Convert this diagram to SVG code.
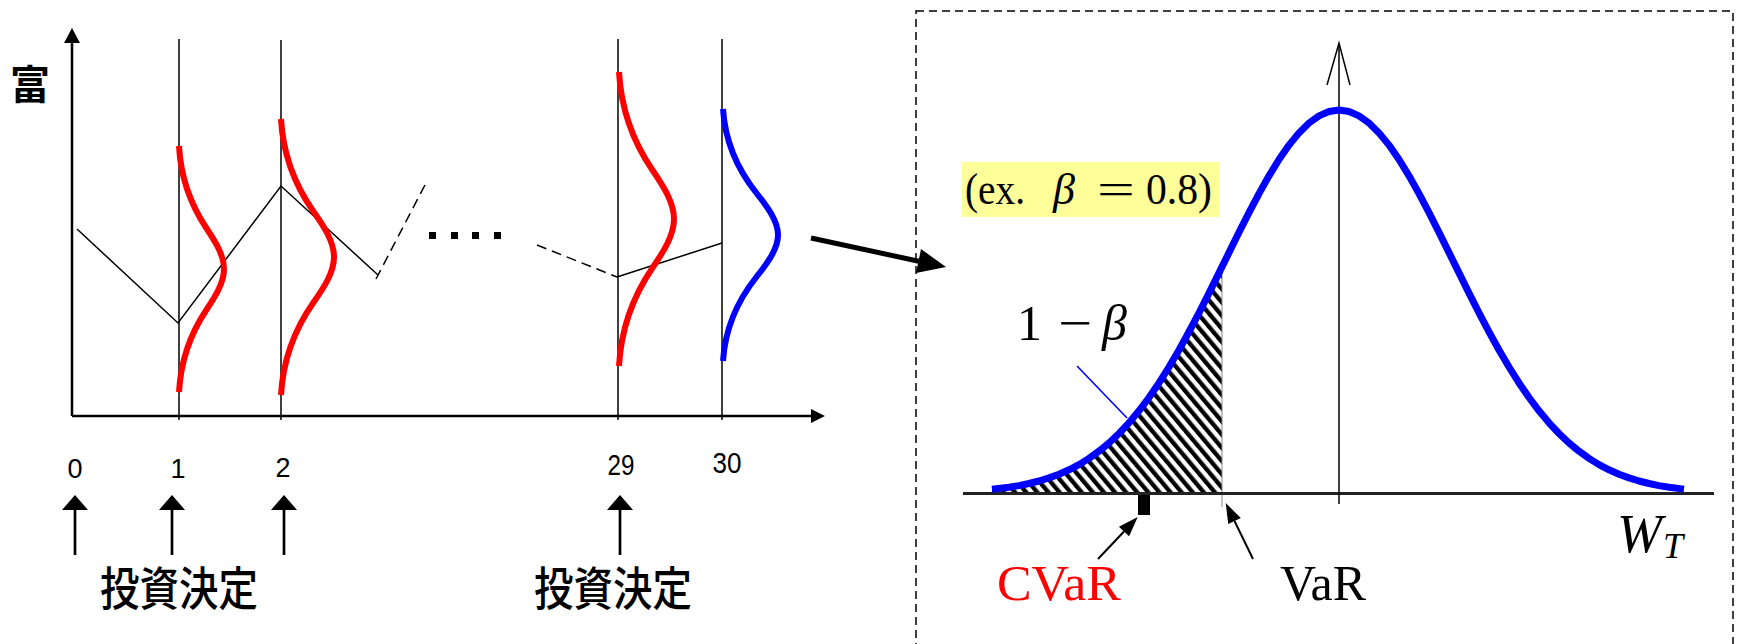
<svg xmlns="http://www.w3.org/2000/svg" width="1738" height="644" viewBox="0 0 1738 644">
<style>
.thin{stroke:#000;stroke-width:1.5;fill:none}
.axis{stroke:#000;stroke-width:2.5;fill:none}
.red{stroke:#ff0000;stroke-width:6;fill:none}
.blue{stroke:#0000ff;stroke-width:6;fill:none}
.dash{stroke:#000;stroke-width:1.5;fill:none;stroke-dasharray:10 6}
.arr{stroke:#000;stroke-width:2.7;fill:none}
.jp{font-family:"Noto Sans CJK JP","Noto Sans CJK SC",sans-serif;fill:#000}
.num{font-family:"Liberation Sans",Arial,sans-serif;fill:#000;text-anchor:middle}
.tex{font-family:"Liberation Serif","Times New Roman",serif;fill:#000}
.it{font-style:italic}
</style>
<defs>
<marker id="upHead" markerUnits="userSpaceOnUse" markerWidth="20" markerHeight="30" refX="0" refY="13" orient="auto" overflow="visible">
<path d="M0,0 L15,13 L0,26 z" fill="#000"/>
</marker>
<marker id="smallHead" markerUnits="userSpaceOnUse" markerWidth="24" markerHeight="18" refX="0" refY="7" orient="auto" overflow="visible">
<path d="M0,0 L20,7 L0,14 z" fill="#000"/>
</marker>
<pattern id="hatch" patternUnits="userSpaceOnUse" width="8.5" height="8.5" patternTransform="rotate(-40)">
<rect width="8.5" height="8.5" fill="#fff"/>
<rect width="4.3" height="8.5" fill="#000"/>
</pattern>
</defs>
<rect width="1738" height="644" fill="#fff"/>

<g id="left-chart">
<line class="axis" x1="72" y1="416" x2="72" y2="43"/>
<polygon points="72,28 64,43 80,43" fill="#000"/>
<line class="axis" x1="72" y1="416" x2="811" y2="416"/>
<polygon points="825,416 811,409 811,423" fill="#000"/>
<line class="thin" x1="179" y1="39" x2="179" y2="420"/>
<line class="thin" x1="281" y1="40" x2="281" y2="420"/>
<line class="thin" x1="618" y1="39" x2="618" y2="420"/>
<line class="thin" x1="722" y1="39" x2="722" y2="420"/>
<polyline class="thin" points="77,229 178,323 281,186 378,275"/>
<line class="dash" x1="376" y1="279" x2="426" y2="183"/>
<line class="dash" x1="537" y1="245" x2="617" y2="277"/>
<line class="thin" x1="617" y1="277" x2="722" y2="243"/>
<g fill="#000">
<rect x="429" y="232" width="7" height="7"/>
<rect x="451" y="232" width="7" height="7"/>
<rect x="472" y="232" width="7" height="7"/>
<rect x="494" y="232" width="7" height="7"/>
</g>
<path class="red" d="M179,146 C180.5,173.3 188.1,200.7 206.3,228 C215.4,241.7 224,255.3 224,269 C224,282.7 215.4,296.3 206.3,310 C188.1,337.3 180.5,364.7 179,392"/>
<path class="red" d="M281,119 C282.7,149.7 291.7,180.3 313.1,211 C323.9,226.3 334,241.7 334,257 C334,272.3 323.9,287.7 313.1,303 C291.7,333.7 282.7,364.3 281,395"/>
<path class="red" d="M619,72 C620.8,104.7 630.1,137.3 652.4,170 C663.5,186.3 674,202.7 674,219 C674,235.3 663.5,251.7 652.4,268 C630.1,300.7 620.8,333.3 619,366"/>
<path class="blue" d="M723,109 C724.8,137 734.1,165 756.4,193 C767.5,207 778,221 778,235 C778,249 767.5,263 756.4,277 C734.1,305 724.8,333 723,361"/>
</g>

<g id="left-labels">
<text class="jp" x="10" y="99" font-size="40" font-weight="bold">富</text>
<text class="num" x="75" y="478" font-size="27">0</text>
<text class="num" x="178" y="478" font-size="27">1</text>
<text class="num" x="283" y="477" font-size="27">2</text>
<text class="num" x="621" y="475" font-size="29" textLength="27" lengthAdjust="spacingAndGlyphs">29</text>
<text class="num" x="727" y="473" font-size="29" textLength="29" lengthAdjust="spacingAndGlyphs">30</text>
<text class="jp" x="100" y="605" font-size="46" font-weight="500" textLength="158" lengthAdjust="spacingAndGlyphs">投資決定</text>
<text class="jp" x="534" y="605" font-size="46" font-weight="500" textLength="158" lengthAdjust="spacingAndGlyphs">投資決定</text>
</g>

<g id="right-panel">
<rect x="916" y="11" width="817" height="660" fill="none" stroke="#000" stroke-width="1.5" stroke-dasharray="8 5"/>
<path d="M992,493 L992,489.3 L1009,487.2 L1019,485.6 L1029,483.5 L1039,481 L1049,477.9 L1059,474.2 L1069,469.8 L1079,464.6 L1089,458.4 L1099,451.2 L1109,443 L1119,433.5 L1129,422.8 L1139,410.8 L1149,397.5 L1159,382.9 L1169,367 L1179,350 L1189,331.8 L1199,312.8 L1209,293.1 L1219,272.9 L1222,267 L1222,493 Z" fill="url(#hatch)"/>
<line x1="1222" y1="265" x2="1222" y2="507" stroke="#888" stroke-width="1"/>
<line x1="963" y1="493.5" x2="1714" y2="493.5" stroke="#222" stroke-width="3"/>
<line class="thin" x1="1339" y1="44" x2="1339" y2="504"/>
<polyline class="thin" points="1327,85 1339,43 1350,85"/>
<polyline fill="none" stroke="#0000ff" stroke-width="7" stroke-linejoin="round" points="992,489.3 1009,487.2 1019,485.6 1029,483.5 1039,481 1049,477.9 1059,474.2 1069,469.8 1079,464.6 1089,458.4 1099,451.2 1109,443 1119,433.5 1129,422.8 1139,410.8 1149,397.5 1159,382.9 1169,367 1179,350 1189,331.8 1199,312.8 1209,293.1 1219,272.9 1229,252.6 1239,232.3 1249,212.6 1259,193.6 1269,175.8 1279,159.5 1289,145.1 1299,132.9 1309,123 1319,115.9 1329,111.5 1339,110 1349,111.5 1359,115.9 1369,123 1379,132.9 1389,145.1 1399,159.5 1409,175.8 1419,193.6 1429,212.6 1439,232.3 1449,252.6 1459,272.9 1469,293.1 1479,312.8 1489,331.8 1499,350 1509,367 1519,382.9 1529,397.5 1539,410.8 1549,422.8 1559,433.5 1569,443 1579,451.2 1589,458.4 1599,464.6 1609,469.8 1619,474.2 1629,477.9 1639,481 1649,483.5 1659,485.6 1669,487.2 1684,489.1"/>
<line x1="1077" y1="366" x2="1127" y2="418" stroke="#0000ff" stroke-width="1.6"/>
<rect x="1138" y="495" width="12" height="20" fill="#000"/>
</g>

<g id="beta-label">
<rect x="962" y="162" width="257" height="55" fill="#ffff99"/>
<text class="tex" y="204" font-size="44"><tspan x="965" textLength="60" lengthAdjust="spacingAndGlyphs">(ex.</tspan><tspan class="it" x="1053">β</tspan><tspan x="1097" textLength="38" lengthAdjust="spacingAndGlyphs">=</tspan><tspan x="1146" textLength="66" lengthAdjust="spacingAndGlyphs">0.8)</tspan></text>
</g>

<g id="one-minus-beta">
<text class="tex" y="340" font-size="50"><tspan x="1017">1</tspan><tspan x="1058" textLength="34" lengthAdjust="spacingAndGlyphs">−</tspan><tspan class="it" x="1102">β</tspan></text>
</g>

<g id="cvar-label"><text class="tex" x="997" y="600" font-size="50" style="fill:#ff0000" textLength="124" lengthAdjust="spacingAndGlyphs">CVaR</text></g>
<g id="var-label"><text class="tex" x="1280" y="600" font-size="50" textLength="86" lengthAdjust="spacingAndGlyphs">VaR</text></g>
<g id="wt-label"><text class="tex it" x="1617" y="552" font-size="54">W</text><text class="tex it" x="1663" y="558" font-size="36">T</text></g>

<g id="connectors">
<line x1="811" y1="238" x2="920" y2="261.5" stroke="#000" stroke-width="5"/>
<polygon points="946,267 916,273 921,249" fill="#000"/>
<line class="arr" x1="75" y1="555" x2="75" y2="510" marker-end="url(#upHead)"/>
<line class="arr" x1="172" y1="555" x2="172" y2="510" marker-end="url(#upHead)"/>
<line class="arr" x1="284" y1="555" x2="284" y2="510" marker-end="url(#upHead)"/>
<line class="arr" x1="620" y1="555" x2="620" y2="510" marker-end="url(#upHead)"/>
<line x1="1098" y1="559" x2="1124" y2="531.5" stroke="#000" stroke-width="2" marker-end="url(#smallHead)"/>
<line x1="1253" y1="559" x2="1234.5" y2="521" stroke="#000" stroke-width="2" marker-end="url(#smallHead)"/>
</g>
</svg>
